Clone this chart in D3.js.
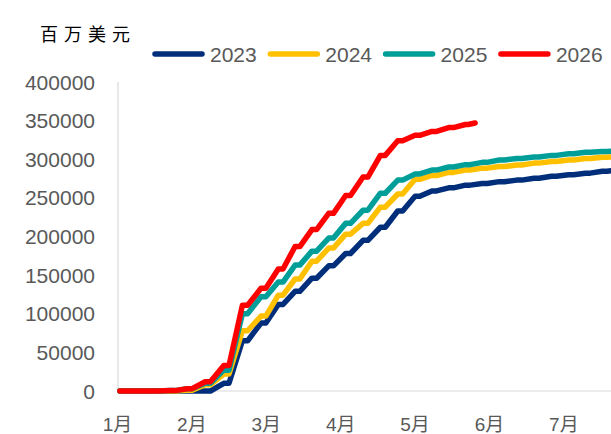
<!DOCTYPE html>
<html>
<head>
<meta charset="utf-8">
<script src="https://cdn.jsdelivr.net/npm/d3@7"></script>
<style>
  html, body { margin: 0; padding: 0; background: #fff; }
  svg { display: block; }
</style>
</head>
<body>
<svg id="chart" width="611" height="434"></svg>
<script>
// ---- data ----
const unitLabel = "百万美元";
const monthLabels = ["1月", "2月", "3月", "4月", "5月", "6月", "7月"];
const monthStartDay = [0, 31, 59, 90, 120, 151, 181, 212];
const yTicks = [0, 50000, 100000, 150000, 200000, 250000, 300000, 350000, 400000];
const seriesNames = ["2023", "2024", "2025", "2026"];
const seriesColors = ["#002E7B", "#FFC000", "#009E99", "#FF0000"];

const weekDays = [1, 8, 15, 22, 29, 36, 43, 50, 57, 64, 71, 78, 85, 92, 99, 106, 113, 120, 127, 134, 141, 148, 155, 162, 169, 176, 183, 190, 197, 204];
const days2026 = [1, 8, 15, 22, 29, 36, 43, 50, 57, 64, 71, 78, 85, 92, 99, 106, 113, 120, 127, 134, 141, 145];

const v2023 = [0, 0, 0, 0, 0, 0, 10000, 65000, 88000, 112000, 129000, 146000, 162000, 178000, 195000, 212000, 233000, 252000, 259000, 263000, 266500, 268500, 271000, 273000, 275500, 278000, 280000, 282000, 284500, 286500];
const v2024 = [0, 0, 0, 0, 1000, 8000, 22000, 78000, 97000, 124000, 145000, 168000, 185000, 203000, 217000, 238000, 255000, 274000, 279000, 283000, 286000, 288500, 290500, 292500, 295000, 297000, 299000, 301000, 302500, 304000];
const v2025 = [0, 0, 0, 500, 3000, 10000, 27000, 100000, 122000, 141000, 163000, 181000, 198000, 217000, 234000, 256000, 273000, 281000, 286000, 290000, 293000, 296000, 299000, 301000, 303000, 305000, 307000, 309000, 310000, 311500];
const v2026 = [0, 0, 0, 500, 3000, 12000, 33000, 111000, 133000, 158000, 187000, 209000, 230000, 253000, 277000, 305000, 324000, 331000, 336000, 341000, 345000, 347000];

// ---- layout ----
const svg = d3.select("#chart");
const x0 = 117.5, monthW = 74.4;
const plotLeft = 118, plotRight = 611, plotTop = 82, plotBottom = 391;

const x = d3.scaleLinear()
  .domain(monthStartDay)
  .range(monthStartDay.map((d, i) => x0 + monthW * i));
const y = d3.scaleLinear().domain([0, 400000]).range([plotBottom, plotTop]);

// custom "weekly step" curve: short plateau then rise to the next point
function curveWeekly(context) {
  return {
    areaStart() {}, areaEnd() {},
    lineStart() { this._p = 0; },
    lineEnd() {},
    point(px, py) {
      if (this._p === 0) { context.moveTo(px, py); this._p = 1; }
      else {
        const xm = this._x + 0.28 * (px - this._x);
        context.lineTo(xm, this._y);
        context.lineTo(px, py);
      }
      this._x = px; this._y = py;
    }
  };
}

// axes lines
const axisColor = "#D9D9D9";
svg.append("line").attr("x1", plotLeft).attr("x2", plotLeft)
  .attr("y1", plotTop).attr("y2", plotBottom)
  .attr("stroke", axisColor).attr("stroke-width", 1.2);
svg.append("line").attr("x1", plotLeft).attr("x2", plotRight)
  .attr("y1", plotBottom).attr("y2", plotBottom)
  .attr("stroke", axisColor).attr("stroke-width", 1.2);

// y tick labels
const textColor = "#595959";
svg.append("g").selectAll("text").data(yTicks).join("text")
  .attr("x", 95).attr("y", d => y(d)).attr("dy", "0.36em")
  .attr("text-anchor", "end")
  .attr("font-family", "'Liberation Sans', Arial, sans-serif")
  .attr("font-size", 21).attr("fill", textColor)
  .text(d => d);

// x tick labels
svg.append("g").selectAll("text").data(monthLabels).join("text")
  .attr("x", (d, i) => x(monthStartDay[i])).attr("y", 431)
  .attr("text-anchor", "middle")
  .attr("font-family", "'Liberation Sans', 'Noto Sans CJK SC', sans-serif")
  .attr("font-size", 19).attr("fill", textColor)
  .text(d => d);

// unit label
svg.append("text").attr("x", 40).attr("y", 41)
  .attr("font-family", "'Noto Sans CJK SC', sans-serif")
  .attr("font-size", 18).attr("letter-spacing", 6).attr("fill", "#000")
  .text(unitLabel);

// series
const seriesData = [
  weekDays.map((d, i) => [d, v2023[i]]),
  weekDays.map((d, i) => [d, v2024[i]]),
  weekDays.map((d, i) => [d, v2025[i]]),
  days2026.map((d, i) => [d, v2026[i]])
];
const line = d3.line().x(d => x(d[0])).y(d => y(d[1])).curve(curveWeekly);
svg.append("defs").append("clipPath").attr("id", "clip")
  .append("rect").attr("x", 110).attr("y", 0).attr("width", 600).attr("height", 434);
const lg = svg.append("g").attr("clip-path", "url(#clip)");
seriesData.forEach((s, i) => {
  lg.append("path").attr("d", line(s))
    .attr("fill", "none").attr("stroke", seriesColors[i])
    .attr("stroke-width", 5.5).attr("stroke-linejoin", "round").attr("stroke-linecap", "round");
});

// legend
const legend = svg.append("g");
seriesNames.forEach((name, i) => {
  const lx = 155 + i * 115.3;
  legend.append("line").attr("x1", lx).attr("x2", lx + 47)
    .attr("y1", 54).attr("y2", 54)
    .attr("stroke", seriesColors[i]).attr("stroke-width", 5.5).attr("stroke-linecap", "round");
  legend.append("text").attr("x", lx + 55).attr("y", 62)
    .attr("font-family", "'Liberation Sans', Arial, sans-serif")
    .attr("font-size", 21).attr("fill", textColor)
    .text(name);
});
</script>
</body>
</html>
